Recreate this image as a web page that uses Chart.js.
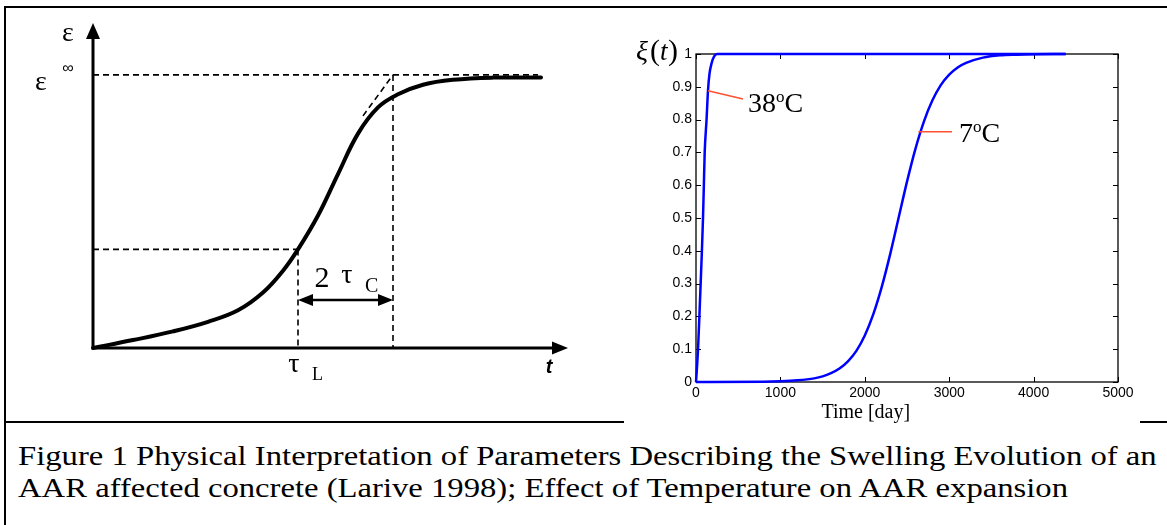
<!DOCTYPE html>
<html>
<head>
<meta charset="utf-8">
<script src="https://cdn.jsdelivr.net/npm/chart.js@4.4.0/dist/chart.umd.min.js"></script>
<style>
  body { margin: 0; background: #fff; width: 1167px; height: 525px; overflow: hidden; position: relative; }
  .rule { position: absolute; background: #000; }
  canvas { position: absolute; top: 0; }
  #caption { position: absolute; left: 18px; top: 440px; font: 27px 'Liberation Serif', serif; line-height: 32px; color: #000;
             white-space: nowrap; transform: scaleX(1.21); transform-origin: 0 0; }
</style>
</head>
<body>
<div class="rule" style="left:4px;top:6px;width:1163px;height:2px"></div>
<div class="rule" style="left:4px;top:6px;width:2px;height:519px"></div>
<div class="rule" style="left:4px;top:421px;width:620px;height:2px"></div>
<div class="rule" style="left:1140px;top:421px;width:27px;height:2px"></div>
<canvas id="schem" width="600" height="420" style="left:0"></canvas>
<canvas id="plot" width="567" height="430" style="left:600px"></canvas>
<div id="caption">Figure 1 Physical Interpretation of Parameters Describing the Swelling Evolution of an<br>AAR affected concrete (Larive 1998); Effect of Temperature on AAR expansion</div>
<script>
// Left schematic (arbitrary units)
const curveT   = [0, 0.8, 1.6, 2.3, 2.9, 3.4, 3.8, 4.1, 4.5, 4.9, 5.3, 5.7, 6.1, 6.6, 7.2, 8.0, 8.96];
const curveEps = [0, 0.029, 0.061, 0.096, 0.138, 0.203, 0.283, 0.361, 0.485, 0.637, 0.785, 0.881, 0.929, 0.964, 0.982, 0.990, 0.990];
const epsInf = 1;
const tauL = 4.1;
const epsAtTauL = 0.361;
const tauEnd = 6.0;       // tauL + 2 tauC
const infLineEnd = 8.9;
const tangentT = [5.4, 6.0];
const tangentEps = [0.85, 1.0];
const arrowEps = 0.176;
const schemMaxT = 9.5;
const schemMaxEps = 1.19;

// Right plot: xi(t) for two temperatures
const t38  = [0, 8, 24, 40, 55, 70, 83, 93, 103, 125, 142, 160, 186, 215, 250, 4380];
const xi38 = [0, 0.03, 0.1, 0.2, 0.3, 0.4, 0.5, 0.6, 0.7, 0.8, 0.888, 0.94, 0.973, 0.993, 1, 1];
const t7  = [0, 800, 1000, 1200, 1400, 1500, 1600, 1700, 1800, 1900, 2000, 2100, 2200, 2300, 2400, 2500, 2600, 2700, 2800, 2900, 3000, 3100, 3200, 3400, 3600, 3800, 4000, 4380];
const xi7 = [0, 0.0005, 0.002, 0.005, 0.011, 0.017, 0.027, 0.041, 0.063, 0.095, 0.142, 0.206, 0.289, 0.389, 0.5, 0.611, 0.711, 0.794, 0.858, 0.905, 0.937, 0.959, 0.973, 0.989, 0.996, 0.998, 0.999, 1];
const xTicks = [0, 1000, 2000, 3000, 4000, 5000];
const xTickLabels = ['0', '1000', '2000', '3000', '4000', '5000'];
const yTicks = [0, 0.1, 0.2, 0.3, 0.4, 0.5, 0.6, 0.7, 0.8, 0.9, 1];
const yTickLabels = ['0', '0.1', '0.2', '0.3', '0.4', '0.5', '0.6', '0.7', '0.8', '0.9', '1'];
const seriesLabels = ['38', '7'];
// leader lines: start on curve, end near label; label anchor
const leaderFrom = [[142, 0.888], [2634, 0.763]];
const leaderTo   = [[557, 0.863], [3033, 0.763]];
const labelAt    = [[616, 0.824], [3116, 0.732]];

const pts = (xs, ys) => xs.map((v, i) => ({ x: v, y: ys[i] }));
const dashed = (xs, ys) => ({
    data: pts(xs, ys), borderColor: '#000', borderWidth: 1.6, borderDash: [6, 4],
    pointRadius: 0, clip: false
});

function arrowHead(ctx, tipX, tipY, dx, dy, len, half) {
    // dx,dy: unit direction pointing to the tip
    ctx.beginPath();
    ctx.moveTo(tipX, tipY);
    ctx.lineTo(tipX - dx * len - dy * half, tipY - dy * len + dx * half);
    ctx.lineTo(tipX - dx * len + dy * half, tipY - dy * len - dx * half);
    ctx.closePath();
    ctx.fill();
}

const schemDeco = {
    id: 'schemDeco',
    afterDatasetsDraw(chart) {
        const { ctx, scales: { x, y } } = chart;
        const X = v => x.getPixelForValue(v), Y = v => y.getPixelForValue(v);
        ctx.save();
        ctx.strokeStyle = '#000';
        ctx.fillStyle = '#000';
        ctx.lineWidth = 3;
        // axes
        ctx.beginPath();
        ctx.moveTo(X(0), Y(0)); ctx.lineTo(X(0), Y(schemMaxEps) + 12);
        ctx.moveTo(X(0), Y(0)); ctx.lineTo(X(schemMaxT) - 12, Y(0));
        ctx.stroke();
        arrowHead(ctx, X(0), Y(schemMaxEps), 0, -1, 16, 7);
        arrowHead(ctx, X(schemMaxT), Y(0), 1, 0, 16, 6.5);
        // 2 tauC double arrow
        ctx.lineWidth = 2.5;
        ctx.beginPath();
        ctx.moveTo(X(tauL) + 10, Y(arrowEps)); ctx.lineTo(X(tauEnd) - 10, Y(arrowEps));
        ctx.stroke();
        arrowHead(ctx, X(tauL), Y(arrowEps), -1, 0, 15, 6);
        arrowHead(ctx, X(tauEnd), Y(arrowEps), 1, 0, 15, 6);
        // labels
        ctx.textAlign = 'center';
        ctx.textBaseline = 'alphabetic';
        ctx.font = '28px "Liberation Serif"';
        ctx.fillText('\u03b5', X(0) - 25, Y(schemMaxEps) + 18);
        ctx.fillText('\u03b5', X(0) - 52, Y(epsInf) + 15);
        ctx.font = '16px "Liberation Sans"';
        ctx.fillText('\u221e', X(0) - 25, Y(epsInf) - 2);
        ctx.font = '30px "Liberation Serif"';
        ctx.fillText('2', X(tauL) + 24, Y(arrowEps) - 13);
        ctx.font = '28px "Liberation Serif"';
        ctx.fillText('\u03c4', X(tauL) + 49, Y(arrowEps) - 17);
        ctx.fillText('\u03c4', X(tauL) - 4, Y(0) + 24);
        ctx.textAlign = 'left';
        ctx.font = '20px "Liberation Serif"';
        ctx.fillText('C', X(tauL) + 67, Y(arrowEps) - 8);
        ctx.font = '18px "Liberation Serif"';
        ctx.fillText('L', X(tauL) + 14, Y(0) + 32);
        ctx.textAlign = 'center';
        ctx.font = 'italic bold 20px "Liberation Sans"';
        ctx.fillText('t', X(schemMaxT) - 19, Y(0) + 25);
        ctx.restore();
    }
};

new Chart(document.getElementById('schem'), {
    type: 'line',
    data: {
        datasets: [
            { data: pts(curveT, curveEps), borderColor: '#000', borderWidth: 4, pointRadius: 0,
              tension: 0.4, borderCapStyle: 'round', clip: false },
            dashed([0, infLineEnd], [epsInf, epsInf]),
            dashed([0, tauL], [epsAtTauL, epsAtTauL]),
            dashed([tauL, tauL], [epsAtTauL, 0]),
            dashed([tauEnd, tauEnd], [epsInf, 0]),
            dashed(tangentT, tangentEps)
        ]
    },
    options: {
        responsive: false,
        animation: false,
        layout: { padding: { left: 93, right: 32, top: 23, bottom: 72 } },
        plugins: { legend: { display: false }, tooltip: { enabled: false } },
        scales: {
            x: { type: 'linear', min: 0, max: schemMaxT, display: false },
            y: { type: 'linear', min: 0, max: schemMaxEps, display: false }
        }
    },
    plugins: [schemDeco]
});

const plotDeco = {
    id: 'plotDeco',
    beforeDatasetsDraw(chart) {
        const { ctx, chartArea: a, scales: { x, y } } = chart;
        ctx.save();
        ctx.strokeStyle = '#000';
        ctx.lineWidth = 1.3;
        ctx.strokeRect(a.left, a.top, a.right - a.left, a.bottom - a.top);
        ctx.lineWidth = 1;
        ctx.beginPath();
        xTicks.forEach(v => {
            const px = Math.round(x.getPixelForValue(v)) + 0.5;
            ctx.moveTo(px, a.bottom); ctx.lineTo(px, a.bottom - 5);
            ctx.moveTo(px, a.top); ctx.lineTo(px, a.top + 5);
        });
        yTicks.forEach(v => {
            const py = Math.round(y.getPixelForValue(v)) + 0.5;
            ctx.moveTo(a.left, py); ctx.lineTo(a.left + 5, py);
            ctx.moveTo(a.right, py); ctx.lineTo(a.right - 5, py);
        });
        ctx.stroke();
        ctx.restore();
    },
    afterDatasetsDraw(chart) {
        const { ctx, chartArea: a, scales: { x, y } } = chart;
        ctx.save();
        ctx.fillStyle = '#000';
        // leader lines and labels
        ctx.strokeStyle = '#ff5030';
        ctx.lineWidth = 1.5;
        seriesLabels.forEach((lab, i) => {
            ctx.beginPath();
            ctx.moveTo(x.getPixelForValue(leaderFrom[i][0]), y.getPixelForValue(leaderFrom[i][1]));
            ctx.lineTo(x.getPixelForValue(leaderTo[i][0]), y.getPixelForValue(leaderTo[i][1]));
            ctx.stroke();
            let px = x.getPixelForValue(labelAt[i][0]);
            const py = y.getPixelForValue(labelAt[i][1]);
            ctx.textAlign = 'left';
            ctx.font = '28px "Liberation Serif"';
            ctx.fillText(lab, px, py);
            px += ctx.measureText(lab).width;
            ctx.font = '17px "Liberation Serif"';
            ctx.fillText('o', px, py - 10);
            px += ctx.measureText('o').width;
            ctx.font = '28px "Liberation Serif"';
            ctx.fillText('C', px, py);
        });
        // x axis title, y label
        ctx.textAlign = 'center';
        ctx.font = '20px "Liberation Serif"';
        ctx.fillText('Time [day]', x.getPixelForValue(2000) + 1, a.bottom + 36);
        ctx.textAlign = 'left';
        const yb = a.top + 6;
        ctx.font = 'italic 28px "Liberation Serif"';
        ctx.fillText('\u03be', a.left - 60, yb);
        ctx.font = '30px "Liberation Serif"';
        ctx.fillText('(', a.left - 46, yb);
        ctx.font = 'italic 27px "Liberation Serif"';
        ctx.fillText('t', a.left - 36, yb);
        ctx.font = '30px "Liberation Serif"';
        ctx.fillText(')', a.left - 28, yb);
        ctx.restore();
    }
};

const blueLine = (xs, ys) => ({
    data: pts(xs, ys), borderColor: '#0000ff', borderWidth: 2.5, pointRadius: 0,
    cubicInterpolationMode: 'monotone', clip: false
});

new Chart(document.getElementById('plot'), {
    type: 'line',
    data: { datasets: [blueLine(t38, xi38), blueLine(t7, xi7)] },
    options: {
        responsive: false,
        animation: false,
        layout: { padding: { left: 0, right: 49, top: 54, bottom: 0 } },
        plugins: { legend: { display: false }, tooltip: { enabled: false } },
        scales: {
            x: {
                type: 'linear', min: 0, max: 5000,
                afterBuildTicks: s => { s.ticks = xTicks.map(v => ({ value: v })); },
                afterFit: s => { s.height = 48; },
                grid: { display: false, drawTicks: false },
                border: { display: false },
                ticks: { autoSkip: false, maxRotation: 0, padding: 3, color: '#000',
                         font: { family: 'Liberation Sans', size: 14 },
                         callback: (v, i) => xTickLabels[i] }
            },
            y: {
                type: 'linear', min: 0, max: 1,
                afterBuildTicks: s => { s.ticks = yTicks.map(v => ({ value: v })); },
                afterFit: s => { s.width = 96; },
                grid: { display: false, drawTicks: false },
                border: { display: false },
                ticks: { autoSkip: false, padding: 4, color: '#000',
                         font: { family: 'Liberation Sans', size: 14 },
                         callback: (v, i) => yTickLabels[i] }
            }
        }
    },
    plugins: [plotDeco]
});
</script>
</body>
</html>
